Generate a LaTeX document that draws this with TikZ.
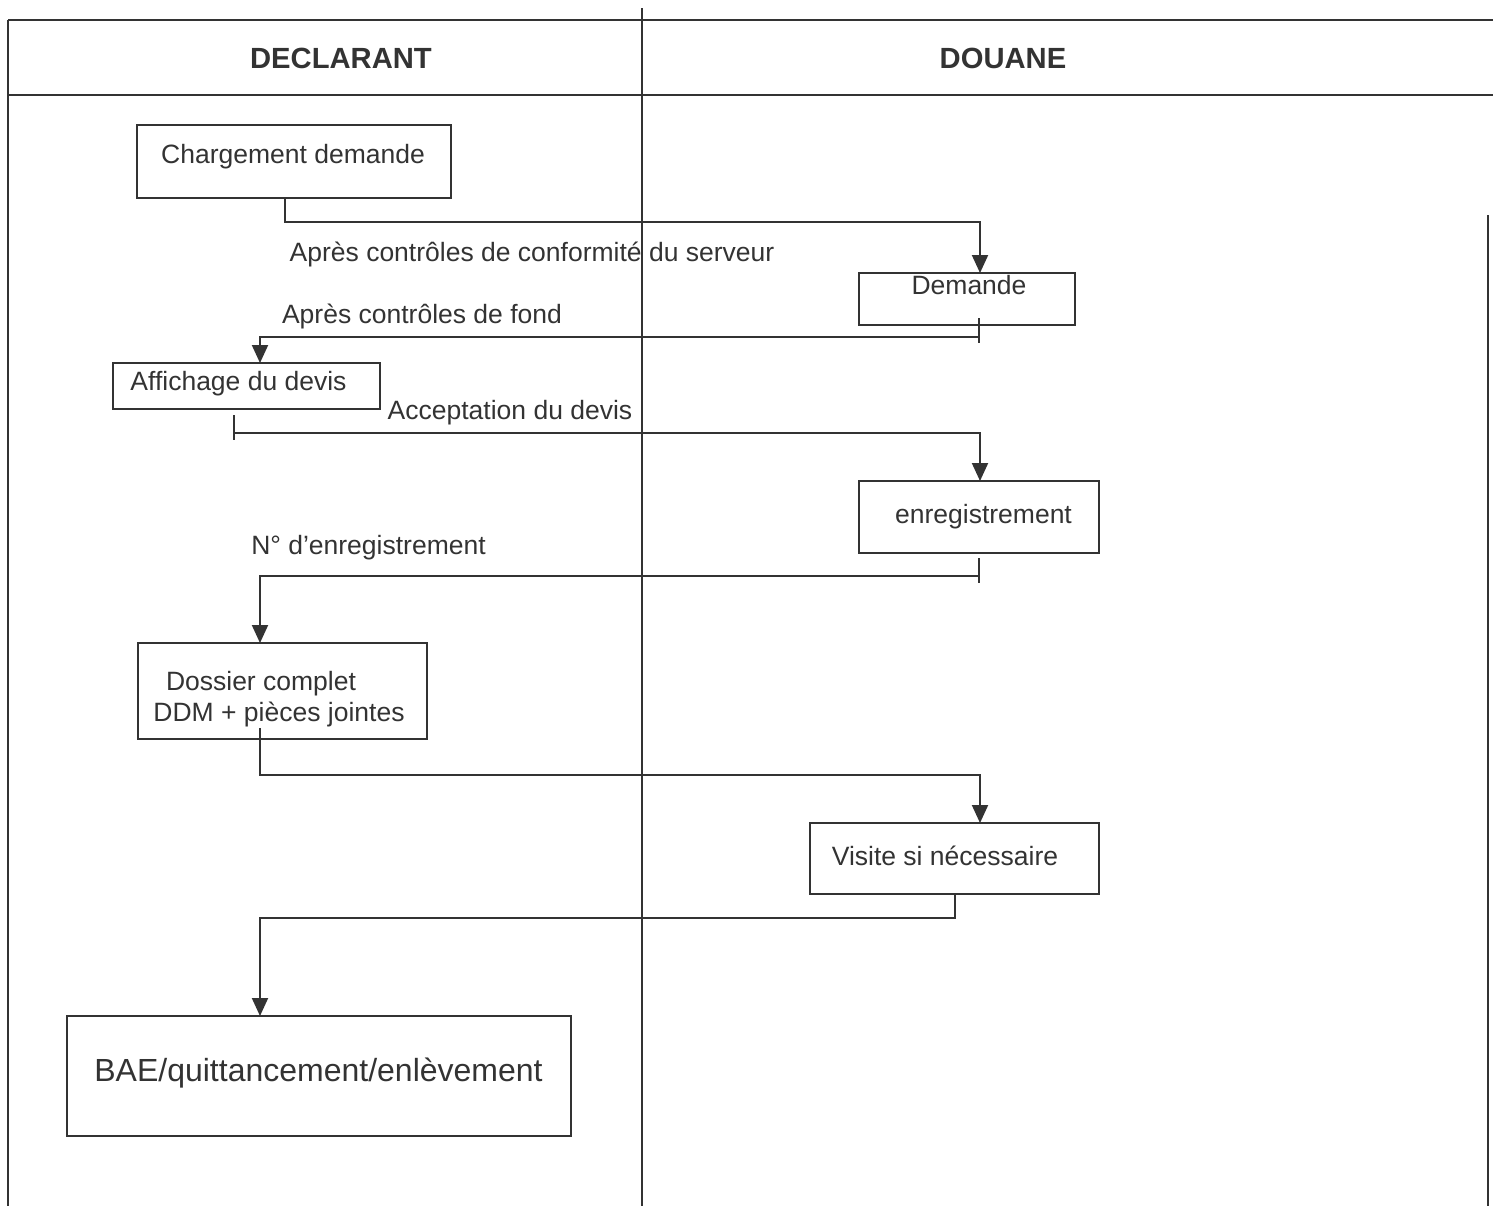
\documentclass[tikz,border=0pt]{standalone}
\usepackage{fontspec}
\setmainfont{Liberation Sans}
\usetikzlibrary{arrows.meta,calc}
\definecolor{ink}{HTML}{333333}
\tikzset{
  frameline/.style={draw=ink, line width=1pt},
  box/.style={draw=ink, line width=1pt, rectangle, inner sep=0pt, outer sep=0pt, fill=none},
  txt/.style={inner sep=0pt, text=ink, font=\fontsize{13.25}{16}\selectfont, align=center},
  head/.style={inner sep=0pt, text=ink, font=\fontsize{14.6}{17}\selectfont\bfseries},
  flow/.style={draw=ink, line width=1pt, -{Triangle[width=8pt,length=9pt]}},
  tick/.style={draw=ink, line width=1pt}
}
\begin{document}
\begin{tikzpicture}[x=0.5pt,y=-0.5pt]
\useasboundingbox (0,0) rectangle (1493,1206);
% frame
\draw[frameline] (8,20) -- (1493,20);
\draw[frameline] (8,95) -- (1493,95);
\draw[frameline] (8,20) -- (8,1206);
\draw[frameline] (642,8) -- (642,1206);
\draw[frameline] (1488,215) -- (1488,1206);
\node[head] (hdecl) at (341,58) {DECLARANT};
\node[head] (hdou) at (1003,58) {DOUANE};
% boxes (sizes in pt = pixels / 2)
\node[box, minimum width=157pt, minimum height=36.5pt] (charg) at (294,161.5) {};
\node[txt] (tcharg) at (293,157) {Chargement demande};
\node[box, minimum width=108pt, minimum height=26pt] (dem) at (967,299) {};
\node[txt] (tdem) at (969,285) {Demande};
\node[box, minimum width=133.5pt, minimum height=23pt] (aff) at (246.5,386) {};
\node[txt] (taff) at (238.5,384) {Affichage du devis};
\node[box, minimum width=120pt, minimum height=36pt] (enr) at (979,517) {};
\node[txt] (tenr) at (983.5,517) {enregistrement};
\node[box, minimum width=144.5pt, minimum height=48pt] (dos) at (282.5,691) {};
\node[txt] (tdos1) at (261,684) {Dossier complet};
\node[txt] (tdos2) at (279,714) {DDM + pièces jointes};
\node[box, minimum width=144.5pt, minimum height=35.5pt] (vis) at (954.5,858.5) {};
\node[txt] (tvis) at (945,856) {Visite si nécessaire};
\node[box, minimum width=252pt, minimum height=60pt] (bae) at (319,1076) {};
\node[txt, font=\fontsize{16}{19}\selectfont] (tbae) at (318.5,1073) {BAE/quittancement/enlèvement};
% labels
\node[txt] (l1) at (532,254) {Après contrôles de conformité du serveur};
\node[txt] (l2) at (422,316) {Après contrôles de fond};
\node[txt] (l3) at (510,413) {Acceptation du devis};
\node[txt] (l4) at (368.5,548) {N° d’enregistrement};
% connector points
\coordinate (j1) at (285,222);
\coordinate (j2) at (979,318);
\coordinate (j2b) at (979,343);
\coordinate (j2c) at (979,337);
\coordinate (j2d) at (260,337);
\coordinate (j3) at (234,415);
\coordinate (j3b) at (234,440);
\coordinate (j3c) at (234,433);
\coordinate (j3d) at (980,433);
\coordinate (j4) at (979,558);
\coordinate (j4b) at (979,583);
\coordinate (j4c) at (979,576);
\coordinate (j4d) at (260,576);
\coordinate (j5) at (260,728);
\coordinate (j5b) at (260,775);
\coordinate (j5c) at (980,775);
\coordinate (j6) at (955,918);
\coordinate (j6b) at (260,918);
% connectors
\draw[flow] (charg.south -| j1) -- (j1) -| ($(dem.north)+(13,0)$);
\draw[tick] (j2) -- (j2b);
\draw[flow] (j2c) -- (j2d) -- (aff.north -| j2d);
\draw[tick] (j3) -- (j3b);
\draw[flow] (j3c) -- (j3d) -- (enr.north -| j3d);
\draw[tick] (j4) -- (j4b);
\draw[flow] (j4c) -- (j4d) -- (dos.north -| j4d);
\draw[flow] (j5) -- (j5b) -- (j5c) -- (vis.north -| j5c);
\draw[flow] (vis.south -| j6) -- (j6) -- (j6b) -- (bae.north -| j6b);
\end{tikzpicture}
\end{document}
